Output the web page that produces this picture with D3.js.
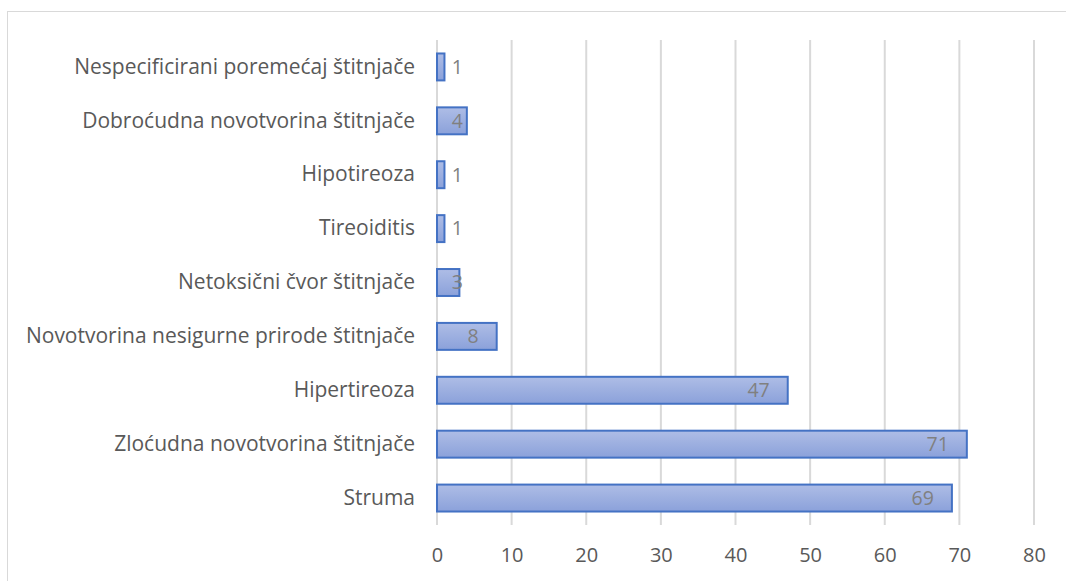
<!DOCTYPE html>
<html>
<head>
<meta charset="utf-8">
<script src="https://cdn.jsdelivr.net/npm/d3@7"></script>
<style>
  body { margin: 0; background: #fff; }
  svg text { font-family: "Open Sans", "Noto Sans", sans-serif; }
</style>
</head>
<body>
<div class="chart-container"></div>
<script>
// categories top to bottom
const categories = [
  "Nespecificirani poremećaj štitnjače",
  "Dobroćudna novotvorina štitnjače",
  "Hipotireoza",
  "Tireoiditis",
  "Netoksični čvor štitnjače",
  "Novotvorina nesigurne prirode štitnjače",
  "Hipertireoza",
  "Zloćudna novotvorina štitnjače",
  "Struma"
];
const values = [1, 4, 1, 1, 3, 8, 47, 71, 69];
const xTicks = [0, 10, 20, 30, 40, 50, 60, 70, 80];

const width = 1066, height = 581;
const margin = { left: 437, top: 40, right: 32, bottom: 56 };
const innerH = height - margin.top - margin.bottom;

const data = categories.map((c, i) => ({ cat: c, value: values[i] }));

const svg = d3.select(".chart-container")
  .append("svg")
  .attr("width", width)
  .attr("height", height);

// chart frame (cropped at right / bottom like the original)
svg.append("rect")
  .attr("x", 7.5).attr("y", 11.5)
  .attr("width", 1100).attr("height", 700)
  .attr("fill", "none")
  .attr("stroke", "#d9d9d9")
  .attr("stroke-width", 1);

const defs = svg.append("defs");
const grad = defs.append("linearGradient")
  .attr("id", "barGrad")
  .attr("x1", 0).attr("y1", 0).attr("x2", 0).attr("y2", 1);
grad.append("stop").attr("offset", "0%").attr("stop-color", "#aebde6");
grad.append("stop").attr("offset", "100%").attr("stop-color", "#8ba1da");

const g = svg.append("g")
  .attr("transform", "translate(" + margin.left + "," + margin.top + ")");

const x = d3.scaleLinear().domain([0, 80]).range([0, 597]);
const y = d3.scaleBand().domain(categories).range([0, innerH])
  .paddingInner(0.5)
  .paddingOuter(0.25);

// gridlines
g.append("g")
  .selectAll("line")
  .data(xTicks)
  .enter()
  .append("line")
  .attr("x1", d => x(d)).attr("x2", d => x(d))
  .attr("y1", 0).attr("y2", innerH)
  .attr("stroke", "#d9d9d9")
  .attr("stroke-width", 2);

// x axis labels
const xAxis = d3.axisBottom(x).tickValues(xTicks).tickSize(0).tickPadding(23);
const xg = g.append("g")
  .attr("transform", "translate(0," + innerH + ")")
  .call(xAxis);
xg.select(".domain").remove();
xg.selectAll("text")
  .attr("fill", "#595959")
  .style("font-size", "20px");

// y axis labels
const yAxis = d3.axisLeft(y).tickSize(0).tickPadding(22);
const yg = g.append("g").call(yAxis);
yg.select(".domain").remove();
yg.selectAll("text")
  .attr("fill", "#595959")
  .style("font-size", "21px");

// bars
g.selectAll(".bar")
  .data(data)
  .enter()
  .append("rect")
  .attr("class", "bar")
  .attr("x", x(0))
  .attr("y", d => y(d.cat))
  .attr("width", d => x(d.value) - x(0))
  .attr("height", y.bandwidth())
  .attr("fill", "url(#barGrad)")
  .attr("stroke", "#4472c4")
  .attr("stroke-width", 2);

// value labels (inside end, pushed out when the bar is too short)
g.selectAll(".val")
  .data(data)
  .enter()
  .append("text")
  .attr("class", "val")
  .attr("x", d => Math.max(x(d.value) - 18, x(0) + 26))
  .attr("y", d => y(d.cat) + y.bandwidth() / 2)
  .attr("dy", "0.35em")
  .attr("text-anchor", "end")
  .attr("fill", "#808080")
  .style("font-size", "19.5px")
  .text(d => d.value);
</script>
</body>
</html>
